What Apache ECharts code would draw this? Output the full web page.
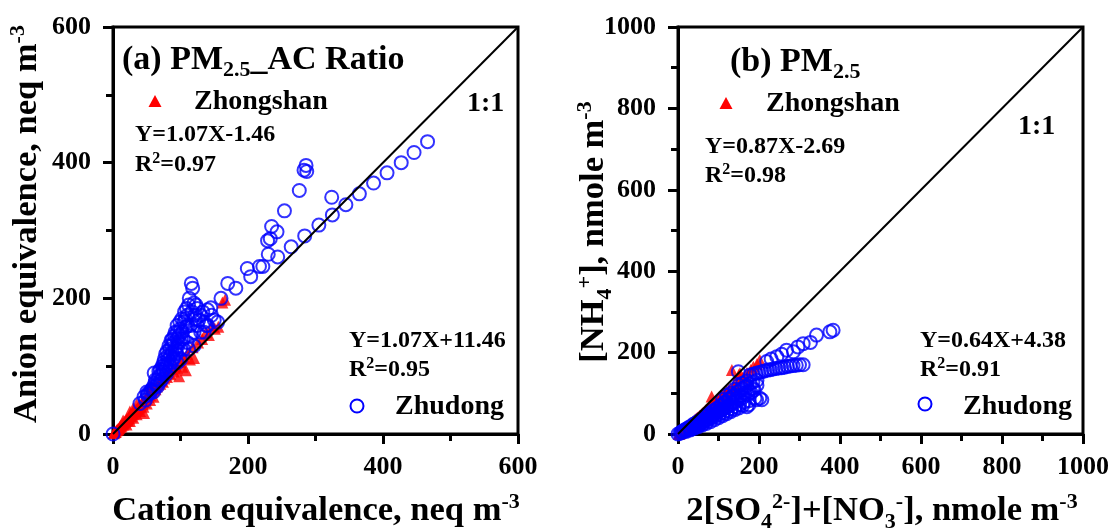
<!DOCTYPE html>
<html><head><meta charset="utf-8">
<script src="https://cdn.jsdelivr.net/npm/echarts@6/dist/echarts.min.js"></script>
<style>html,body{margin:0;padding:0;background:#fff}#c{width:1115px;height:531px}</style>
</head><body><div id="c"></div><script>
// ---------- data ----------
const ticksA = [0, 200, 400, 600];
const ticksB = [0, 200, 400, 600, 800, 1000];
const diagA = [[0, 0], [600, 600]];
const diagB = [[0, 0], [1000, 1000]];
// (a) Cation vs Anion equivalence, Zhongshan
const zsA = [[1,1],[2,2],[3,3],[4,3],[5,5],[6,6],[7,7],[8,7],[9,9],[10,10],[11,12],[12,11],[13,13],[14,15],[15,14],[16,16],[17,18],[18,17],[19,19],[20,21],[21,22],[22,20],[23,24],[24,23],[25,26],[26,28],[27,26],[28,29],[29,31],[30,30],[31,32],[32,34],[33,33],[34,36],[35,35],[36,38],[37,37],[38,40],[39,39],[40,43],[41,41],[42,44],[43,46],[44,44],[45,48],[46,47],[48,50],[49,53],[50,52],[52,55],[53,58],[55,57],[56,61],[58,62],[60,64],[61,68],[63,66],[65,70],[67,73],[70,74],[72,79],[74,77],[76,82],[78,86],[80,84],[83,90],[85,88],[88,95],[90,92],[93,100],[95,97],[98,85],[100,106],[103,99],[108,94],[106,112],[110,118],[114,110],[118,128],[120,112],[126,135],[132,140],[138,150],[142,146],[147,160],[151,155],[156,158],[166,198],[162,194],[20,14],[25,19],[30,24],[35,29],[40,34],[46,31],[30,38],[45,40],[50,45],[55,50],[60,55],[15,20],[25,33],[35,44],[56,70]];
// (a) Zhudong
const zdA = [[0,0],[40,45],[46,55],[51,57],[50,62],[55,60],[58,66],[60,70],[61,90],[62,75],[65,72],[66,80],[68,85],[70,78],[70,95],[72,88],[73,100],[75,92],[75,105],[76,110],[78,98],[78,118],[80,103],[80,122],[82,110],[83,95],[84,125],[85,115],[86,105],[87,130],[88,120],[88,140],[90,112],[90,135],[92,125],[92,150],[94,118],[95,140],[95,160],[96,130],[98,145],[100,125],[100,155],[102,170],[104,140],[105,165],[106,180],[108,158],[110,175],[112,190],[115,160],[116,222],[118,215],[120,193],[123,190],[122,170],[125,185],[130,175],[135,165],[140,183],[145,186],[150,168],[160,200],[170,222],[182,215],[199,244],[204,232],[217,247],[222,247],[229,285],[230,265],[233,288],[235,306],[243,298],[244,261],[254,329],[264,276],[276,359],[283,389],[286,396],[287,387],[284,292],[305,308],[324,349],[325,323],[345,338],[365,354],[386,370],[406,385],[427,400],[446,415],[466,431],
  [48,50],[52,60],[56,64],[60,62],[63,80],[66,70],[68,92],[72,80],[74,95],[77,102],[79,88],[81,115],[83,130],[85,100],[86,138],[89,110],[91,145],[93,120],[95,150],[97,135],[99,165],[101,140],[103,150],[107,170],[109,185],[111,160],[113,200],[117,180],[121,175],[127,168],[133,180],[138,160],[146,175],[155,165],[100,110],[105,125],[95,105],
  [110,135],[115,145],[120,150],[125,160],[130,150],[120,130],[112,125],[140,160],[135,150]];
// (b) 2[SO4]+[NO3] vs [NH4+], Zhongshan
const zsB = [[2,0],[3,1],[5,2],[6,4],[8,5],[10,7],[11,6],[13,9],[15,11],[16,12],[18,13],[20,15],[21,17],[23,18],[25,19],[27,21],[29,23],[30,24],[32,25],[34,27],[36,29],[38,31],[40,32],[42,35],[44,36],[46,38],[48,40],[50,41],[53,44],[55,46],[58,48],[60,51],[63,53],[66,55],[68,58],[70,60],[73,62],[76,64],[78,67],[80,69],[83,70],[86,73],[90,77],[92,80],[95,82],[100,85],[104,88],[108,92],[112,96],[116,100],[120,104],[125,108],[130,112],[133,157],[138,118],[145,125],[150,145],[153,149],[160,138],[170,150],[180,158],[186,165],[195,172],[202,182],[83,92]];
// (b) Zhudong
const zdB = [[0,0],[5,2],[8,5],[10,4],[12,7],[15,9],[18,8],[20,12],[22,10],[25,14],[28,17],[30,15],[32,12],[35,20],[38,24],[40,20],[42,17],[45,27],[48,30],[50,25],[52,22],[55,34],[58,37],[60,30],[62,27],[65,42],[68,44],[70,36],[72,32],[75,48],[78,51],[80,42],[82,38],[85,55],[88,58],[90,48],[92,43],[95,62],[98,64],[100,55],[102,48],[105,68],[108,72],[110,60],[112,52],[115,76],[118,80],[120,66],[122,57],[125,85],[128,88],[130,72],[132,62],[135,92],[138,96],[140,78],[142,67],[149,153],[148,104],[150,84],[152,72],[155,108],[158,112],[160,90],[163,78],[165,115],[170,118],[172,96],[175,82],[178,124],[180,102],[185,128],[188,108],[190,88],[195,132],[170,67],[175,72],[194,84],[202,88],[207,84],[178,145],[186,147],[193,149],[200,151],[207,153],[214,155],[221,157],[228,158],[235,160],[242,161],[249,162],[256,163],[263,164],[270,166],[277,167],[284,168],[292,169],[300,170],[309,170],[219,178],[230,184],[244,190],[256,196],[268,206],[285,202],[296,214],[309,222],[327,225],[342,243],[375,251],[383,255],
  [20,6],[30,10],[40,14],[50,18],[60,22],[70,26],[80,30],[90,35],[100,40],[110,45],[120,50],[130,55],[140,60],[150,64],[160,70],[45,20],[55,25],[65,35],[75,40],[85,45],[95,52],[105,58],[115,64],[125,70],[135,78],[145,88],[155,95],[165,100],[175,105],[185,112],[195,120],[150,120],[160,125],[170,130],[140,110],[130,100],[120,95],[110,85]];

// ---------- text helpers ----------
const SERIF = '"Liberation Serif","Times New Roman",serif';
const cv = document.createElement('canvas').getContext('2d');
function tw(t, s) { cv.font = 'bold ' + s + 'px ' + SERIF; return cv.measureText(t).width; }
// segs: [text, size, dy]; x,y = start/center & baseline
function rich(segs, x, y, center, rot) {
  let total = 0; segs.forEach(s => total += tw(s[0], s[1]));
  let cx = center ? -total / 2 : 0;
  const kids = segs.map(s => {
    const el = {
      type: 'text', x: cx, y: (s[2] || 0) - 0.33 * s[1],
      style: { text: s[0], font: 'bold ' + s[1] + 'px ' + SERIF, fill: '#000',
        textAlign: 'left', textVerticalAlign: 'middle', align: 'left', verticalAlign: 'middle' }
    };
    cx += tw(s[0], s[1]);
    return el;
  });
  return { type: 'group', x: x, y: y, rotation: rot || 0, children: kids };
}
const T = 34, L = 28, E = 24, A = 34.5, S = 22;
const sup = s => -0.36 * s, sub = s => 0.22 * s;

const graphics = [
  rich([['(a) PM', T], ['2.5', S, 7], ['_AC Ratio', T]], 122, 71),
  rich([['Zhongshan', L]], 194, 111),
  rich([['Y=1.07X-1.46', E]], 135, 143),
  rich([['R', E], ['2', 16, -9], ['=0.97', E]], 135, 173),
  rich([['1:1', L]], 467, 113),
  rich([['Y=1.07X+11.46', E]], 349, 349),
  rich([['R', E], ['2', 16, -9], ['=0.95', E]], 349, 378),
  rich([['Zhudong', L]], 395, 416),
  rich([['(b) PM', T], ['2.5', S, 7]], 730, 73),
  rich([['Zhongshan', L]], 766, 113),
  rich([['Y=0.87X-2.69', E]], 705, 155),
  rich([['R', E], ['2', 16, -9], ['=0.98', E]], 705, 184),
  rich([['1:1', L]], 1018, 136),
  rich([['Y=0.64X+4.38', E]], 920, 349),
  rich([['R', E], ['2', 16, -9], ['=0.91', E]], 920, 378),
  rich([['Zhudong', L]], 963, 416),
  // axis titles
  rich([['Cation equivalence, neq m', A], ['-3', S, sup(A)]], 316, 522, true),
  rich([['2[SO', A], ['4', S, sub(A)], ['2-', S, sup(A)], [']+[NO', A], ['3', S, sub(A)], ['-', S, sup(A)], ['], nmole m', A], ['-3', S, sup(A)]], 882, 522, true),
  rich([['Anion equivalence, neq m', A], ['-3', S, sup(A)]], 38, 224, true, Math.PI / 2),
  rich([['[NH', A], ['4', S, sub(A)], ['+', S, sup(A)], ['], nmole m', A], ['-3', S, sup(A)]], 605, 232, true, Math.PI / 2),
  // legend symbols
  { type: 'polygon', shape: { points: [[155, 95], [161.5, 107], [148.5, 107]] }, style: { fill: '#ff0000' } },
  { type: 'circle', shape: { cx: 357, cy: 406, r: 6.5 }, style: { fill: 'none', stroke: '#0000ff', lineWidth: 2 } },
  { type: 'polygon', shape: { points: [[726, 97], [732.5, 109], [719.5, 109]] }, style: { fill: '#ff0000' } },
  { type: 'circle', shape: { cx: 925, cy: 404, r: 6.5 }, style: { fill: 'none', stroke: '#0000ff', lineWidth: 2 } }
];

function axis(gi, max, isX) {
  return {
    type: 'value', gridIndex: gi, min: 0, max: max, interval: 200,
    axisLine: { show: true, onZero: false, lineStyle: { color: '#000', width: 3 } },
    axisTick: { show: true, inside: false, length: 10, lineStyle: { color: '#000', width: 3 } },
    minorTick: { show: true, splitNumber: 2, length: 7, lineStyle: { color: '#000', width: 3 } },
    splitLine: { show: false }, minorSplitLine: { show: false },
    axisLabel: { show: true, margin: isX ? 20 : 22, color: '#000', fontFamily: SERIF, fontWeight: 'bold', fontSize: 26,
      showMinLabel: true, showMaxLabel: true, formatter: v => String(v) }
  };
}
const triStyle = { color: '#ff0000' };
const cirStyle = { color: 'rgba(0,0,0,0)', borderColor: '#0000ff', borderWidth: 2 };

const chart = echarts.init(document.getElementById('c'), null, { renderer: 'canvas' });
chart.setOption({
  animation: false,
  backgroundColor: '#fff',
  grid: [
    { left: 113, top: 27, width: 405, height: 407, show: true, borderColor: '#000', borderWidth: 3, backgroundColor: 'transparent' },
    { left: 678, top: 27, width: 405, height: 407, show: true, borderColor: '#000', borderWidth: 3, backgroundColor: 'transparent' }
  ],
  xAxis: [axis(0, ticksA[ticksA.length - 1], true), axis(1, ticksB[ticksB.length - 1], true)],
  yAxis: [axis(0, ticksA[ticksA.length - 1], false), axis(1, ticksB[ticksB.length - 1], false)],
  series: [
    { type: 'line', xAxisIndex: 0, yAxisIndex: 0, data: diagA, symbol: 'none', silent: true, lineStyle: { color: '#000', width: 2 } },
    { type: 'line', xAxisIndex: 1, yAxisIndex: 1, data: diagB, symbol: 'none', silent: true, lineStyle: { color: '#000', width: 2 } },
    { name: 'Zhongshan', type: 'scatter', xAxisIndex: 0, yAxisIndex: 0, data: zsA, symbol: 'triangle', symbolSize: 12, itemStyle: triStyle },
    { name: 'Zhudong', type: 'scatter', xAxisIndex: 0, yAxisIndex: 0, data: zdA, symbol: 'circle', symbolSize: 13, itemStyle: cirStyle },
    { name: 'Zhongshan', type: 'scatter', xAxisIndex: 1, yAxisIndex: 1, data: zsB, symbol: 'triangle', symbolSize: 12, itemStyle: triStyle },
    { name: 'Zhudong', type: 'scatter', xAxisIndex: 1, yAxisIndex: 1, data: zdB, symbol: 'circle', symbolSize: 13, itemStyle: cirStyle }
  ],
  graphic: graphics
});
</script></body></html>
